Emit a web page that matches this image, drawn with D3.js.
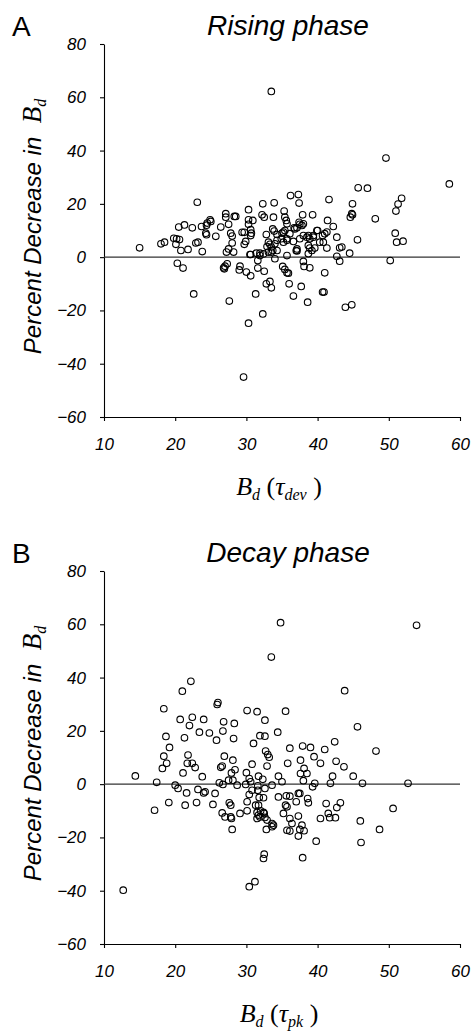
<!DOCTYPE html>
<html>
<head>
<meta charset="utf-8">
<script src="https://cdn.jsdelivr.net/npm/d3@7"></script>
<style>
  body { margin: 0; background: #fff; }
  svg { display: block; }
  .tick text { font-family: 'Liberation Sans', Arial, sans-serif; font-style: italic; font-size: 17px; fill: #000; }
</style>
</head>
<body>
<svg id="chart" width="471" height="1035"></svg>
<script>
const xTicks = [10, 20, 30, 40, 50, 60];
const yTicks = [-60, -40, -20, 0, 20, 40, 60, 80];
const panelLetters = ['A', 'B'];
const panelTitles = ['Rising phase', 'Decay phase'];
const xSubscripts = ['dev', 'pk'];

// [Bd, percent decrease]
const risingPhase = [
  [15.0,3.5],[18.0,5.0],[18.5,5.6],[19.8,7.1],[20.2,6.9],[20.6,6.6],[20.1,4.8],[20.8,2.5],[21.8,2.9],[20.5,11.3],
  [21.3,12.1],[22.4,11.0],[22.9,5.3],[23.2,5.6],[23.1,20.6],[23.8,2.1],[23.7,11.5],[24.4,8.4],[24.3,9.0],[24.5,12.8],
  [24.9,14.0],[25.0,13.4],[24.4,12.0],[25.7,7.8],[26.4,11.3],[27.1,16.3],[27.1,15.0],[27.5,12.3],[28.3,15.3],[28.5,15.3],
  [27.8,9.0],[28.0,7.9],[28.0,5.3],[27.2,1.9],[27.5,3.1],[28.2,1.9],[29.4,9.3],[29.7,9.3],[29.7,4.8],[29.9,5.9],
  [30.3,17.8],[30.3,14.0],[30.9,13.8],[30.3,12.3],[30.7,9.0],[30.6,8.1],[30.6,10.3],[30.5,1.0],[30.6,1.0],[31.9,1.5],
  [31.9,0.6],[31.4,1.5],[32.4,1.2],[32.3,20.0],[33.9,20.4],[32.2,15.9],[32.5,15.0],[33.8,15.0],[32.8,8.5],[33.1,5.6],
  [33.3,4.8],[33.5,3.8],[33.7,2.5],[34.0,5.0],[34.3,6.3],[34.3,8.5],[33.7,10.6],[33.9,9.8],[33.1,1.9],[33.5,1.9],
  [34.3,2.5],[32.9,4.0],
  [20.3,-2.3],[21.1,-4.1],[22.6,-13.8],[26.8,-4.0],[27.0,-3.4],[27.3,-2.5],[26.9,-4.4],[27.6,-16.5],[29.1,-3.4],[29.0,-4.8],
  [30.0,-5.6],[30.6,-7.0],[31.3,-13.8],[32.3,-21.3],[30.3,-24.8],[29.6,-45.0],[31.6,-1.3],[31.6,-4.1],[32.5,-5.3],[32.8,-10.0],
  [33.3,-9.1],[33.5,-11.5],[34.0,-0.6],[35.1,-3.5],[35.4,-4.6],[35.7,-5.9],[35.9,-6.0],[36.0,-10.0],[36.6,-14.6],[37.7,-11.0],
  [38.0,-1.6],[38.1,-3.5],[38.9,-4.0],[38.6,-16.9],[41.0,-5.9],[40.7,-13.1],[40.9,-13.1],[43.9,-18.8],[44.8,-17.9],[43.1,-1.5],
  [50.2,-1.3],
  [33.5,62.2],[49.6,37.2],[58.5,27.5],[45.7,26.0],[47.0,25.9],[36.2,23.1],[37.3,23.5],[37.4,20.3],[35.3,17.3],[35.4,15.0],
  [35.6,13.8],[35.7,12.5],[37.9,15.9],[39.3,15.9],[41.4,13.8],[42.2,11.5],[41.3,9.4],[41.0,8.8],[40.7,8.1],[40.0,10.0],
  [39.4,8.1],[40.8,5.6],[40.3,5.6],[39.6,3.4],[39.2,2.5],[38.7,4.4],[38.5,7.5],[38.0,8.1],[37.8,11.9],[37.4,13.1],
  [37.1,11.0],[36.8,10.6],[36.1,8.8],[35.2,9.4],[34.9,6.9],[35.7,6.9],[36.6,5.9],[37.5,6.9],[37.1,3.1],[37.0,2.5],
  [35.7,0.6],[38.9,3.4],[41.3,3.4],[42.7,7.5],[43.1,3.5],[43.4,3.8],[42.7,0.3],[44.5,1.5],[45.6,6.5],[50.9,9.0],
  [51.1,5.6],[52.0,6.0],[41.6,21.6],[51.8,22.1],[51.3,19.9],[51.0,17.3],[44.9,20.0],[44.8,16.3],[44.9,15.9],[44.6,15.0],
  [48.1,14.4],[38.7,8.1],[38.9,6.9],[39.4,7.5],[39.9,10.0],[37.5,12.3],[38.0,12.5],[35.0,9.0],[35.4,10.0],[36.7,11.0],
  [35.2,5.6],[35.7,6.3],[38.7,1.3],[37.1,2.3]
];

const decayPhase = [
  [34.8,60.6],[53.9,59.6],[33.5,47.7],[22.2,38.6],[21.0,34.9],[43.8,35.1],[18.4,28.3],[26.0,30.6],[25.9,29.9],[30.1,27.6],
  [31.5,27.2],[35.5,27.4],[20.7,24.3],[22.4,25.1],[22.0,22.0],[24.0,24.3],[26.8,23.4],[28.3,22.8],[32.6,24.0],[45.6,21.5],
  [18.7,17.9],[21.3,17.4],[19.2,13.8],[23.4,19.5],[24.8,19.2],[26.7,19.9],[25.8,16.5],[28.2,17.1],[31.9,18.2],[32.6,18.0],
  [34.4,19.5],[31.0,15.3],[36.1,13.5],[37.9,14.3],[39.0,13.8],[41.0,13.0],[42.4,15.9],[48.2,12.4],
  [18.4,10.5],[18.8,7.8],[18.2,5.9],[21.8,10.9],[21.7,7.8],[22.4,7.8],[22.8,6.2],[21.1,4.2],[23.8,2.8],[14.4,3.1],
  [17.4,0.7],[26.6,6.8],[26.4,6.3],[26.9,10.5],[28.1,9.0],[28.4,5.4],[27.9,4.2],[30.8,7.5],[30.0,4.3],[30.4,2.1],
  [31.7,3.0],[32.3,1.8],[32.7,12.4],[33.0,11.1],[33.2,10.1],[32.9,6.8],[35.8,7.8],[26.2,0.5],[26.7,-0.1],[27.5,1.5],
  [28.1,1.5],[28.7,-0.4],[29.9,-0.1],[30.6,0.9],[31.6,-0.6],[32.6,-1.6],[33.6,-0.4],[34.5,3.0],[35.0,0.9],[37.6,9.0],
  [38.1,5.9],[38.5,4.0],[37.6,4.0],[38.0,1.3],[39.5,10.3],[40.4,7.8],[42.6,8.6],[43.7,6.5],[42.1,3.0],[45.0,3.0],
  [46.3,0.3],[52.7,0.3],[41.8,0.3],[39.3,-1.0],[39.6,0.3],
  [20.0,-0.4],[20.4,-1.6],[21.6,-3.3],[23.2,-2.0],[24.0,-3.3],[24.2,-2.9],[25.6,-3.5],[17.1,-9.8],[19.1,-6.9],[21.4,-7.9],
  [23.0,-6.9],[25.3,-7.6],[27.6,-7.0],[27.8,-7.9],[26.6,-10.8],[27.0,-12.3],[27.8,-12.3],[27.9,-12.9],[28.0,-17.0],[29.1,-11.0],
  [30.1,-10.0],[30.1,-6.6],[30.4,-3.9],[31.6,-2.3],[30.8,-2.3],[31.8,-5.0],[32.4,-5.1],[31.3,-7.9],[31.7,-7.9],[32.0,-10.0],
  [32.4,-10.6],[31.5,-10.6],[31.7,-11.6],[31.9,-12.3],[32.6,-12.5],[31.5,-12.9],[32.5,-11.0],[32.9,-13.5],[33.6,-14.8],[33.8,-15.4],
  [32.8,-17.0],[33.6,-16.0],[34.5,-4.8],[35.5,-7.9],[35.7,-17.3],[35.6,-4.4],[35.2,-11.0],[32.5,-26.3],[32.4,-27.9],[31.2,-36.6],
  [30.4,-38.5],[12.7,-39.8],[35.7,-8.5],[36.1,-4.5],[36.1,-12.9],[36.4,-14.8],[36.1,-17.6],[37.3,-19.5],[37.3,-12.0],[37.8,-15.4],
  [37.5,-17.0],[38.1,-17.5],[37.0,-6.6],[37.3,-3.5],[37.5,-3.5],[38.6,-5.4],[38.7,-7.0],[37.9,-27.6],[39.8,-21.4],[41.2,-7.3],
  [43.2,-7.0],[42.7,-8.8],[41.5,-11.0],[41.7,-12.6],[42.5,-12.6],[40.4,-12.9],[46.0,-13.8],[46.1,-21.9],[48.7,-17.0],[50.6,-9.1]
];

const sans = "'Liberation Sans', Arial, sans-serif";
const serif = "'Liberation Serif', 'Times New Roman', serif";

const svg = d3.select('#chart');
const plotLeft = 104, plotRight = 460, plotH = 373;
const panelTops = [44, 571];
const datasets = [risingPhase, decayPhase];

const x = d3.scaleLinear().domain([10, 60]).range([plotLeft, plotRight]);

datasets.forEach((data, i) => {
  const top = panelTops[i];
  const y = d3.scaleLinear().domain([-60, 80]).range([top + plotH, top]);
  const g = svg.append('g');

  // panel letter + title
  g.append('text')
    .attr('x', 12).attr('y', top - 8)
    .style('font-family', sans).style('font-size', '28px')
    .text(panelLetters[i]);
  g.append('text')
    .attr('x', 288).attr('y', top - 9)
    .attr('text-anchor', 'middle')
    .style('font-family', sans).style('font-size', '28px').style('font-style', 'italic')
    .text(panelTitles[i]);

  // axes
  const yAxis = g.append('g')
    .attr('transform', `translate(${plotLeft},0)`)
    .call(d3.axisLeft(y).tickValues(yTicks).tickSize(4).tickSizeOuter(0).tickPadding(14));
  const xAxis = g.append('g')
    .attr('transform', `translate(0,${top + plotH})`)
    .call(d3.axisBottom(x).tickValues(xTicks).tickSize(4).tickSizeOuter(0).tickPadding(17));
  [yAxis, xAxis].forEach(a => {
    a.selectAll('path, line').attr('stroke', '#000').attr('stroke-width', 1.1);
  });

  // zero line
  g.append('line')
    .attr('x1', plotLeft).attr('x2', plotRight)
    .attr('y1', y(0)).attr('y2', y(0))
    .attr('stroke', '#333').attr('stroke-width', 1.1);

  // points
  g.selectAll('circle')
    .data(data)
    .enter()
    .append('circle')
    .attr('cx', d => x(d[0]))
    .attr('cy', d => y(d[1]))
    .attr('r', 3.3)
    .attr('fill', 'none')
    .attr('stroke', '#000')
    .attr('stroke-width', 1.1);

  // y title
  const cy = top + plotH / 2 - 4;
  const yt = g.append('text')
    .attr('transform', `translate(41,${cy}) rotate(-90)`)
    .attr('text-anchor', 'middle');
  yt.append('tspan')
    .style('font-family', sans).style('font-style', 'italic').style('font-size', '24px')
    .text('Percent Decrease in\u00a0 ');
  yt.append('tspan')
    .style('font-family', serif).style('font-style', 'italic').style('font-size', '27px')
    .text('B');
  yt.append('tspan')
    .attr('dy', 5)
    .style('font-family', serif).style('font-style', 'italic').style('font-size', '16px')
    .text('d');

  // x title
  const xt = g.append('text')
    .attr('x', 279).attr('y', top + plotH + 78)
    .attr('text-anchor', 'middle')
    .style('font-family', serif);
  xt.append('tspan').style('font-style', 'italic').style('font-size', '26px').text('B');
  xt.append('tspan').attr('dy', 5).style('font-style', 'italic').style('font-size', '16px').text('d');
  xt.append('tspan').attr('dy', -5).style('font-size', '26px').text('\u00a0(');
  xt.append('tspan').style('font-style', 'italic').style('font-size', '26px').text('\u03c4');
  xt.append('tspan').attr('dy', 5).style('font-style', 'italic').style('font-size', '16px').text(xSubscripts[i]);
  xt.append('tspan').attr('dy', -5).style('font-size', '26px').text('\u00a0)');
});
</script>
</body>
</html>
